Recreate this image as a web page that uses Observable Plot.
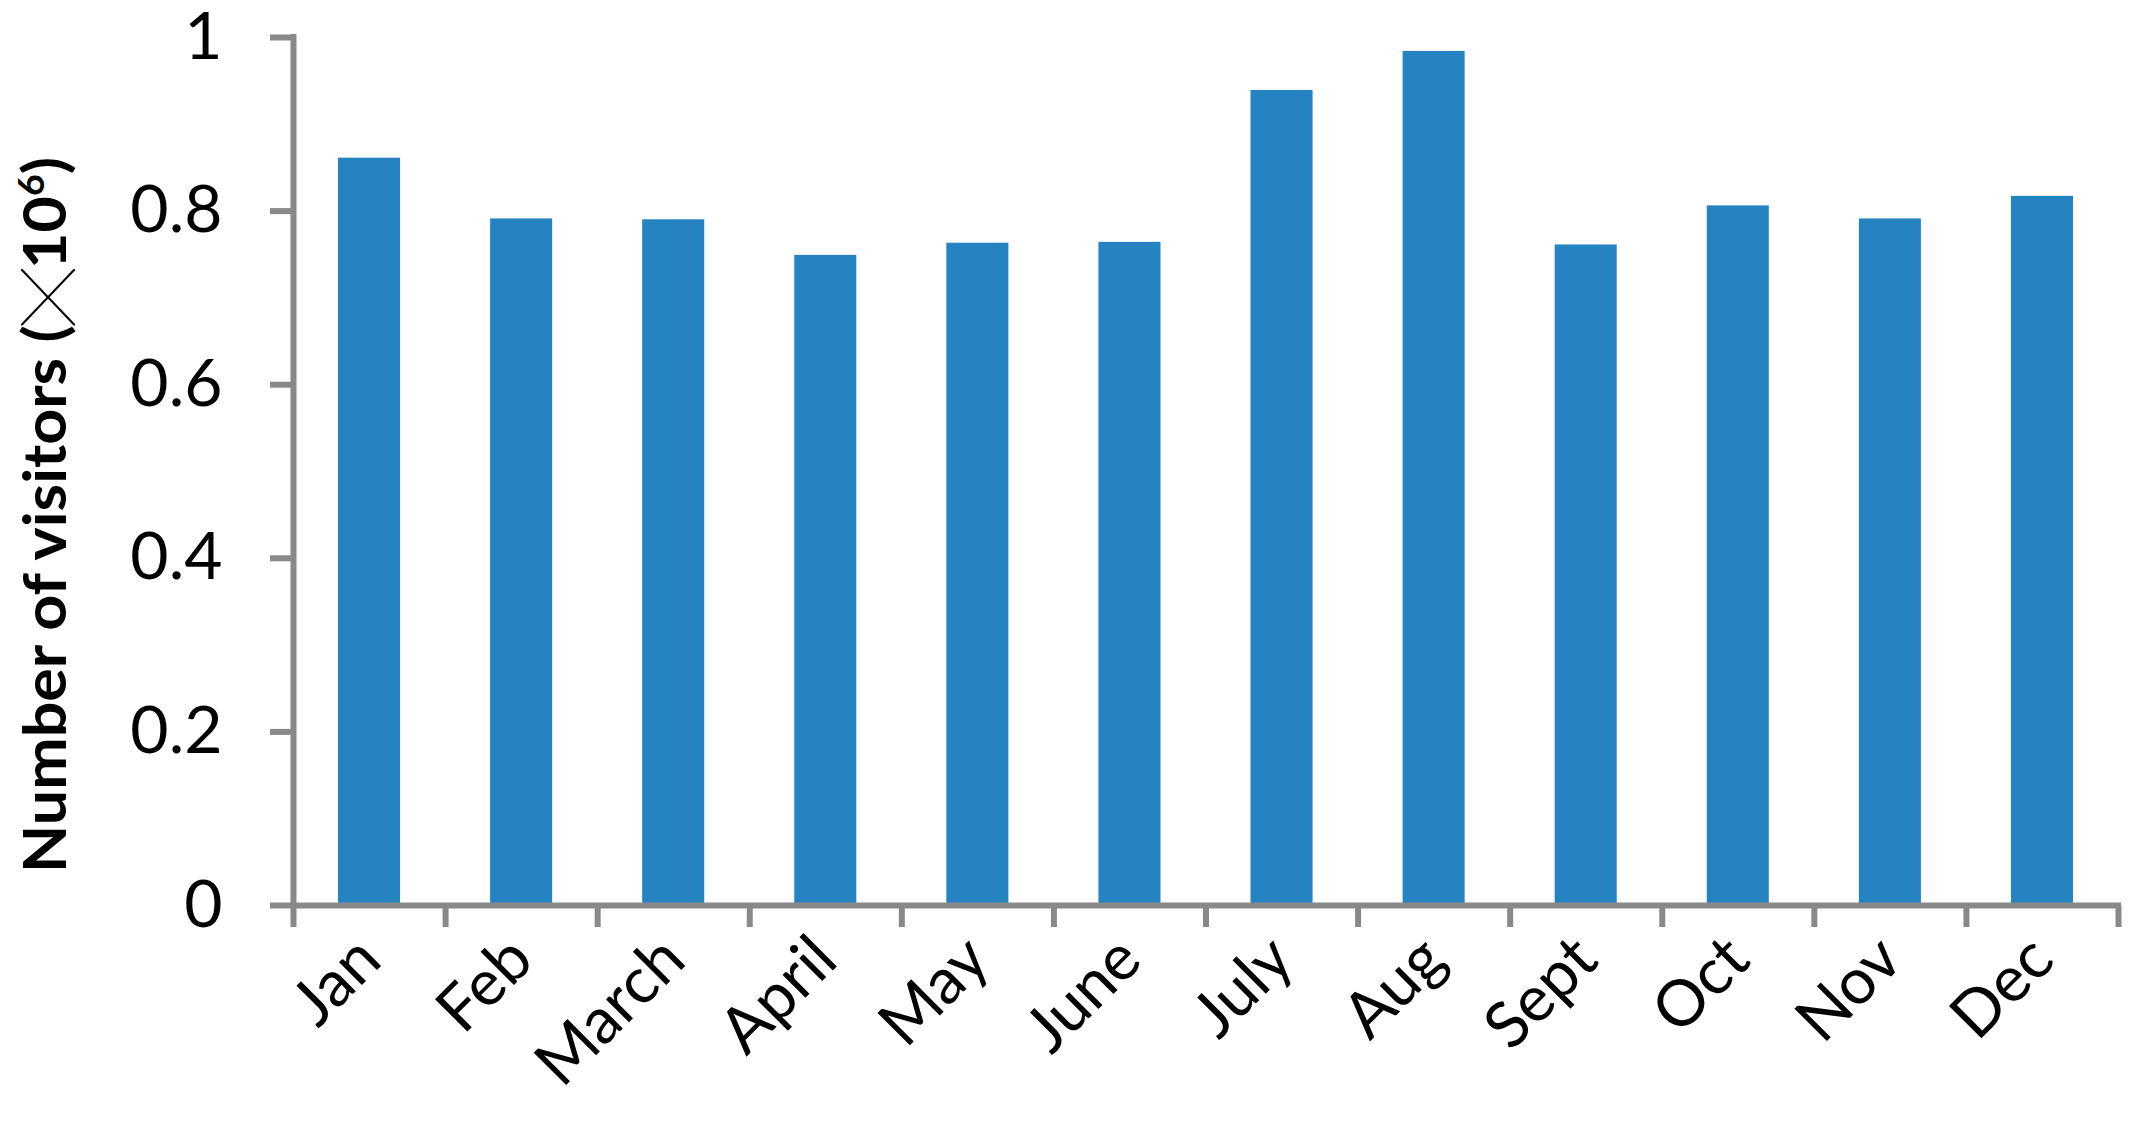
<!DOCTYPE html>
<html><head><meta charset="utf-8">
<script src="https://cdn.jsdelivr.net/npm/d3@7"></script>
<script src="https://cdn.jsdelivr.net/npm/@observablehq/plot@0.6"></script>
<style>html,body{margin:0;padding:0;background:#fff;} svg{display:block}</style>
</head><body><div id="chart"></div>
<script>
const months = ["Jan","Feb","March","April","May","June","July","Aug","Sept","Oct","Nov","Dec"];
const visitors = [0.861,0.791,0.790,0.749,0.763,0.764,0.939,0.984,0.761,0.806,0.791,0.817];
const yTicks = [0,0.2,0.4,0.6,0.8,1];
const yTickLabels = ["0","0.2","0.4","0.6","0.8","1"];
const yTitleParts = ["Number of visitors (", "╳", "10", "6", ")"];

const BAR = "#2683c1";
const GRAY = "#898989";
const data = months.map((m, i) => ({month: m, i, value: visitors[i]}));

const chart = Plot.plot({
  width: 2139, height: 1129,
  marginLeft: 293, marginRight: 21, marginTop: 37, marginBottom: 224,
  style: {background: "white", fontFamily: "Lato", color: "black", overflow: "visible"},
  x: {type: "linear", domain: [0, 12], axis: null},
  y: {domain: [0, 1], axis: null},
  marks: [
    Plot.rect(data, {x1: d => d.i + 0.296, x2: d => d.i + 0.704, y1: 0, y2: "value", fill: BAR}),
    Plot.axisX({ticks: d3.range(13), tickSize: 22, fill: "none", stroke: GRAY, strokeWidth: 6, label: null}),
    Plot.axisX({ticks: d3.range(12).map(i => i + 0.5), tickFormat: d => months[Math.floor(d)],
      tickSize: 0, tickPadding: 43, tickRotate: -45, fontSize: 64, fill: "black", label: null}),
    Plot.axisY({ticks: yTicks, tickFormat: d => yTickLabels[yTicks.indexOf(d)], tickSize: 23, tickPadding: 48,
      fontSize: 66, stroke: GRAY, strokeWidth: 6, fill: "black", label: null}),
    Plot.ruleY([0], {stroke: GRAY, strokeWidth: 6, strokeLinecap: "square"}),
    Plot.ruleX([0], {stroke: GRAY, strokeWidth: 6, strokeLinecap: "square"})
  ]
});
document.getElementById("chart").appendChild(chart);

const svg = d3.select(chart);
const t = svg.append("text")
  .attr("transform", "translate(66,515) rotate(-90)")
  .attr("text-anchor", "middle")
  .attr("font-family", "Lato")
  .attr("font-weight", "bold")
  .attr("font-size", 60)
  .attr("fill", "black")
  .attr("textLength", 716)
  .attr("lengthAdjust", "spacingAndGlyphs");
t.append("tspan").text(yTitleParts[0]);
t.append("tspan").attr("font-family", "Noto Sans CJK SC").attr("font-weight", "normal").attr("font-size", 54).attr("dy", 3).text(yTitleParts[1]);
t.append("tspan").attr("dy", -3).text(yTitleParts[2]);
t.append("tspan").attr("font-size", 36).attr("dy", -22).text(yTitleParts[3]);
t.append("tspan").attr("dy", 22).text(yTitleParts[4]);
</script>
</body></html>
